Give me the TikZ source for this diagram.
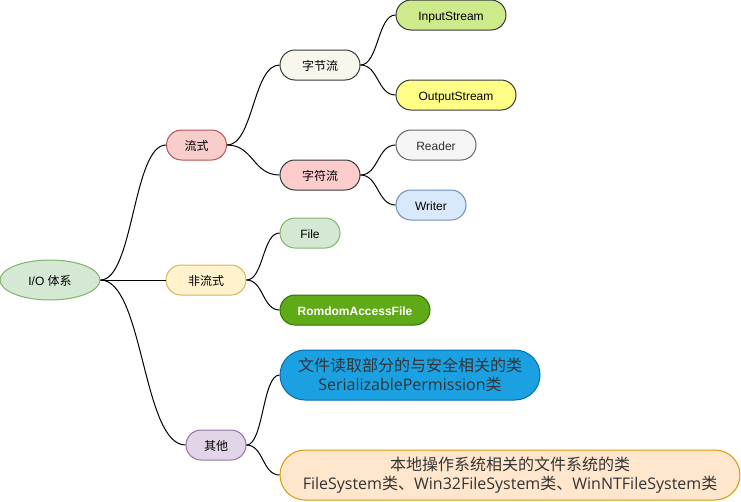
\documentclass[tikz,border=0pt]{standalone}
\usepackage{fontspec}
\setmainfont{Liberation Sans}
\newfontfamily\cjk{Noto Sans CJK SC}
\newfontfamily\osans{Open Sans}
\usetikzlibrary{shapes.geometric}
\definecolor{gfill}{HTML}{D5E8D4}\definecolor{gline}{HTML}{82B366}
\definecolor{rfill}{HTML}{F8CECC}\definecolor{rline}{HTML}{B85450}
\definecolor{yfill}{HTML}{FFF2CC}\definecolor{yline}{HTML}{D6B656}
\definecolor{pfill}{HTML}{E1D5E7}\definecolor{pline}{HTML}{9673A6}
\definecolor{dline}{HTML}{36393D}
\definecolor{bytefill}{HTML}{F9F7ED}
\definecolor{charfill}{HTML}{FFCCCC}
\definecolor{infill}{HTML}{CDEB8B}
\definecolor{outfill}{HTML}{FFFF88}
\definecolor{rdfill}{HTML}{F5F5F5}\definecolor{rdline}{HTML}{666666}\definecolor{rdtext}{HTML}{333333}
\definecolor{wfill}{HTML}{DAE8FC}\definecolor{wline}{HTML}{6C8EBF}
\definecolor{rafill}{HTML}{60A917}\definecolor{raline}{HTML}{2D7600}
\definecolor{bfill}{HTML}{1BA1E2}\definecolor{bline}{HTML}{006EAF}
\definecolor{ofill}{HTML}{FFE6CC}\definecolor{oline}{HTML}{D79B00}
\tikzset{
  pill/.style={draw, line width=1pt, rectangle, rounded corners=15pt, minimum height=30pt, inner sep=0pt, text height=10.5pt, text depth=0pt, font=\fontsize{12}{14}\selectfont, text=black},
  bigpill/.style={draw, line width=1pt, rectangle, rounded corners=25pt, minimum height=50pt, inner sep=0pt, align=center, font=\osans\fontsize{16}{19}\selectfont, text=rdtext},
  edge/.style={draw=black, line width=1pt}
}
\begin{document}
\begin{tikzpicture}[x=1pt,y=-1pt]
\useasboundingbox (0,0) rectangle (741,501);
% root
\node[ellipse, draw=gline, fill=gfill, line width=1pt, minimum width=100pt, minimum height=40pt, inner sep=0pt, text height=10.5pt, text depth=0pt, font=\fontsize{12}{14}\selectfont] (io) at (50,280) {I/O {\cjk 体系}};
% level 1
\node[pill, draw=rline, fill=rfill, minimum width=60pt] (ls) at (196.5,145) {\cjk 流式};
\node[pill, draw=yline, fill=yfill, minimum width=80pt] (fls) at (206,280) {\cjk 非流式};
\node[pill, draw=pline, fill=pfill, minimum width=60pt] (qt) at (216,445) {\cjk 其他};
% level 2
\node[pill, draw=dline, fill=bytefill, minimum width=80pt] (zj) at (320,65) {\cjk 字节流};
\node[pill, draw=dline, fill=charfill, minimum width=80pt] (zf) at (320,175) {\cjk 字符流};
\node[pill, draw=gline, fill=gfill, minimum width=60pt] (file) at (310,233) {File};
\node[pill, draw=raline, fill=rafill, minimum width=150pt, text=white, font=\bfseries\fontsize{12}{14}\selectfont] (raf) at (355,310) {RomdomAccessFile};
\node[bigpill, draw=bline, fill=bfill, minimum width=260pt] (sec) at (410,375) {{\cjk 文件读取部分的与安全相关的类}\\SerializablePermission{\cjk 类}};
\node[bigpill, draw=oline, fill=ofill, minimum width=460pt] (fs) at (510,475) {{\cjk 本地操作系统相关的文件系统的类}\\FileSystem{\cjk 类、}Win32FileSystem{\cjk 类、}WinNTFileSystem{\cjk 类}};
% level 3
\node[pill, draw=dline, fill=infill, minimum width=110pt] (in) at (451,15) {InputStream};
\node[pill, draw=dline, fill=outfill, minimum width=120pt] (out) at (456,95) {OutputStream};
\node[pill, draw=rdline, fill=rdfill, minimum width=80pt, text=rdtext] (rd) at (436,145) {Reader};
\node[pill, draw=wline, fill=wfill, minimum width=70pt] (wr) at (431,205) {Writer};
% edges
\draw[edge] (io.east) .. controls +(33,0) and +(-33,0) .. (ls.west);
\draw[edge] (io.east) -- (fls.west);
\draw[edge] (io.east) .. controls +(43,0) and +(-43,0) .. (qt.west);
\draw[edge] (ls.east) .. controls +(26.5,0) and +(-26.5,0) .. (zj.west);
\draw[edge] (ls.east) .. controls +(26.5,0) and +(-26.5,0) .. (zf.west);
\draw[edge] (fls.east) .. controls +(17,0) and +(-17,0) .. (file.west);
\draw[edge] (fls.east) .. controls +(17,0) and +(-17,0) .. (raf.west);
\draw[edge] (qt.east) .. controls +(17,0) and +(-17,0) .. (sec.west);
\draw[edge] (qt.east) .. controls +(17,0) and +(-17,0) .. (fs.west);
\draw[edge] (zj.east) .. controls +(18,0) and +(-18,0) .. (in.west);
\draw[edge] (zj.east) .. controls +(18,0) and +(-18,0) .. (out.west);
\draw[edge] (zf.east) .. controls +(18,0) and +(-18,0) .. (rd.west);
\draw[edge] (zf.east) .. controls +(18,0) and +(-18,0) .. (wr.west);
\end{tikzpicture}
\end{document}
